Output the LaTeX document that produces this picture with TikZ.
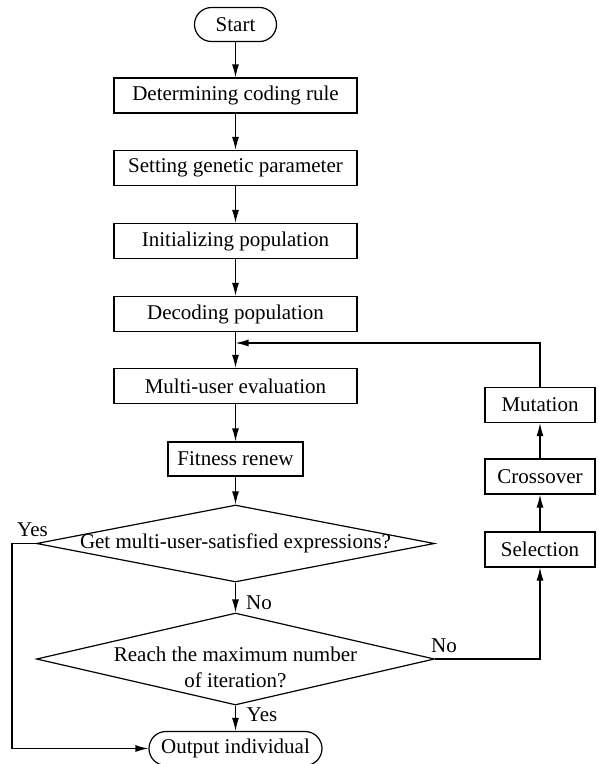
\documentclass[tikz,border=0pt]{standalone}
\usepackage{fontspec}
\setmainfont{Liberation Serif}
\usetikzlibrary{arrows.meta,positioning,shapes.geometric}

\tikzset{
  procbox/.style={draw, line width=1.2pt, minimum width=243pt, minimum height=35pt, inner sep=0pt},
  sidebox/.style={procbox, minimum width=110pt},
  termbox/.style={draw, line width=1.2pt, rounded corners=17pt, minimum height=34pt, inner sep=0pt},
  decide/.style={draw, line width=1.2pt, diamond, inner sep=0pt},
  flow/.style={line width=1.2pt, -{Latex[length=13pt,width=7pt]}},
}

\begin{document}
\begin{tikzpicture}[x=1pt, y=-1pt, every node/.style={font=\fontsize{21}{24}\selectfont}]
\useasboundingbox (0,0) rectangle (599,764);
% main column
\node[termbox, minimum width=82pt] (start) at (235.5,24.5) {Start};
\node[procbox] (coding) at (235.5,95.5) {Determining coding rule};
\node[procbox] (genetic) at (235.5,168) {Setting genetic parameter};
\node[procbox] (init) at (235.5,241) {Initializing population};
\node[procbox] (decode) at (235.5,314) {Decoding population};
\node[procbox] (evaluate) at (235.5,386) {Multi-user evaluation};
\node[procbox, minimum width=135pt, minimum height=34pt] (fitness) at (235.5,459) {Fitness renew};
% decisions
\node[decide, minimum width=398pt, minimum height=77pt,
      label=center:{Get multi-user-satisfied expressions?}] (satisfied) at (235.5,543.5) {};
\node[decide, minimum width=398pt, minimum height=92pt,
      label={[align=center, font=\fontsize{21}{26}\selectfont, yshift=-8pt]center:Reach the maximum number\\of iteration?}] (reach) at (235.5,659) {};
\node[termbox, minimum width=173pt] (output) at (235.5,748.5) {Output individual};
% genetic operators
\node[sidebox] (selection) at (540,549.5) {Selection};
\node[sidebox] (crossover) at (540,476.5) {Crossover};
\node[sidebox] (mutation) at (540,405) {Mutation};
% bends
\coordinate (join) at (235.5,343);
\coordinate (yesbend) at (12,543.5);
% connectors
\foreach \a/\b in {start/coding, coding/genetic, genetic/init, init/decode,
                   decode/evaluate, evaluate/fitness, fitness/satisfied,
                   satisfied/reach, reach/output, selection/crossover, crossover/mutation}
  \draw[flow] (\a) -- (\b);
\draw[flow] (mutation.north) |- (join);
\draw[flow] (satisfied.west) -- (yesbend) |- (output.west);
\draw[flow] (reach.east) -| (selection.south);
% branch labels
\node (yesA) at (32.5,530) {Yes};
\node (noA) at (259,603) {No};
\node (yesB) at (262,715) {Yes};
\node (noB) at (444,646) {No};
\end{tikzpicture}
\end{document}
